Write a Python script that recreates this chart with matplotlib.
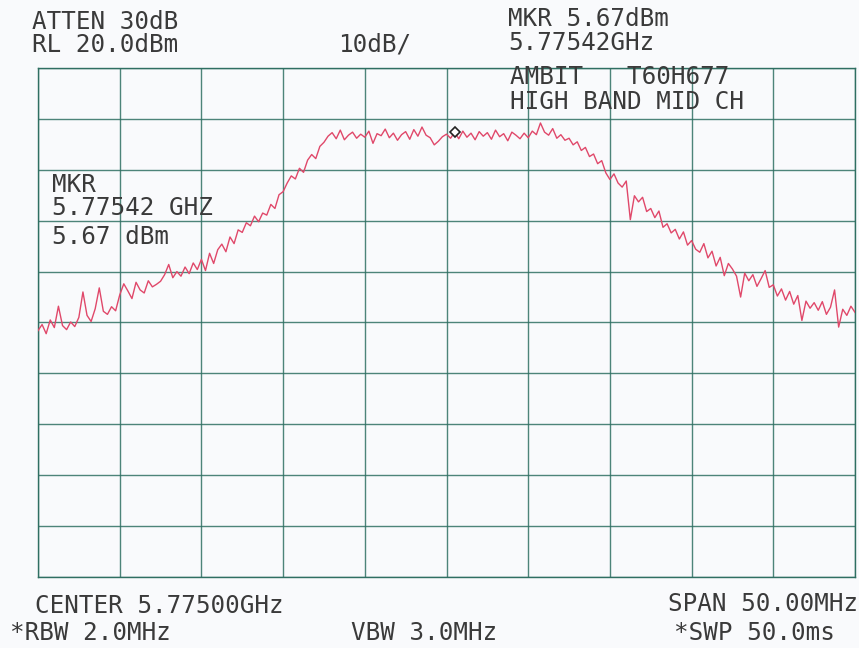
import numpy as np
import matplotlib
matplotlib.use("Agg")
import matplotlib.pyplot as plt

# ---- instrument settings ----
center_ghz = 5.775
span_mhz = 50.0
ref_level_dbm = 20.0
db_per_div = 10.0
n_div = 10

# ---- trace (dBm), 201 sweep points ----
trace_dbm = [
    -31.6, -30.4, -32.2, -29.5, -31.0, -26.8, -30.6, -31.4, -29.9, -30.8,
    -29.0, -24.0, -28.6, -29.8, -27.3, -23.2, -27.8, -28.4, -26.9, -27.7,
    -24.6, -22.4, -23.8, -25.3, -22.1, -23.6, -24.2, -21.8, -23.0, -22.5,
    -21.9, -20.6, -18.6, -21.2, -20.0, -20.9, -19.1, -20.4, -18.3, -19.6,
    -17.6, -19.8, -16.4, -18.4, -15.7, -14.6, -16.1, -13.2, -14.5, -11.8,
    -12.3, -10.4, -11.0, -9.1, -10.2, -8.5, -8.9, -6.8, -7.6, -4.9,
    -4.3, -2.6, -1.2, -1.8, 0.3, -0.5, 1.9, 3.0, 2.2, 4.6,
    5.4, 6.6, 7.3, 6.1, 7.8, 5.9, 6.8, 7.4, 6.2, 7.0,
    6.4, 7.6, 5.2, 7.1, 6.7, 8.0, 6.3, 7.2, 5.8, 6.9,
    7.5, 6.0, 7.9, 6.6, 8.4, 6.8, 6.3, 4.9, 5.6, 6.5,
    7.0, 6.2, 7.4, 6.1, 7.6, 6.4, 7.2, 5.9, 7.5, 6.6,
    7.3, 6.0, 7.8, 6.5, 7.1, 5.7, 7.4, 6.8, 6.1, 7.2,
    6.3, 7.6, 6.9, 9.2, 7.4, 6.8, 8.1, 6.2, 6.9, 5.8,
    6.2, 4.9, 5.5, 3.8, 4.4, 2.6, 3.1, 1.2, 1.8, -0.6,
    -1.9, -0.8, -2.6, -3.4, -2.2, -9.8, -5.1, -6.3, -5.4, -8.2,
    -7.6, -9.4, -8.1, -11.3, -10.6, -12.4, -11.7, -13.6, -12.2, -14.8,
    -13.9, -15.6, -16.2, -14.5, -17.3, -16.0, -18.9, -17.2, -20.8, -18.4,
    -19.5, -20.9, -25.0, -20.3, -21.8, -20.6, -22.9, -21.4, -19.8, -23.1,
    -22.6, -24.8, -23.4, -25.6, -23.9, -26.4, -24.7, -29.6, -25.8, -27.2,
    -26.1, -27.6, -25.9, -28.4, -27.0, -23.6, -30.9, -27.4, -28.6, -26.8,
    -28.0,
]
marker_index = 102

# ---- annotation texts: (string, anchor x px, center y px, alignment) ----
labels = [
    ("ATTEN 30dB", 32, 22, "left"),
    ("RL 20.0dBm", 32, 45, "left"),
    ("10dB/", 338, 45, "left"),
    ("MKR 5.67dBm", 508, 19, "left"),
    ("5.77542GHz", 508, 43, "left"),
    ("AMBIT   T60H677", 510, 77, "left"),
    ("HIGH BAND MID CH", 510, 102, "left"),
    ("MKR", 52, 185, "left"),
    ("5.77542 GHZ", 52, 208, "left"),
    ("5.67 dBm", 52, 237, "left"),
    ("CENTER 5.77500GHz", 35, 606, "left"),
    ("SPAN 50.00MHz", 858, 604, "right"),
    ("*RBW 2.0MHz", 10, 633, "left"),
    ("VBW 3.0MHz", 424, 633, "center"),
    ("*SWP 50.0ms", 835, 633, "right"),
]

W, H = 859, 648
bg = "#f9fafc"
grid_col = "#2f6f62"
trace_col = "#e0486a"
text_col = "#3a3a3a"

fig = plt.figure(figsize=(W / 100, H / 100), dpi=100, facecolor=bg)
x0, x1, y0, y1 = 38, 855, 68, 577
ax = fig.add_axes([x0 / W, 1 - y1 / H, (x1 - x0) / W, (y1 - y0) / H])
ax.set_facecolor(bg)

f_start = center_ghz - span_mhz / 2000.0
f_stop = center_ghz + span_mhz / 2000.0
freqs = np.linspace(f_start, f_stop, len(trace_dbm))
bottom = ref_level_dbm - n_div * db_per_div

ax.set_xlim(f_start, f_stop)
ax.set_ylim(bottom, ref_level_dbm)
ax.set_xticks(np.linspace(f_start, f_stop, n_div + 1))
ax.set_yticks(np.linspace(bottom, ref_level_dbm, n_div + 1))
ax.grid(True, color=grid_col, linewidth=1.0, alpha=0.85)
ax.tick_params(length=0, labelbottom=False, labelleft=False)
for s in ax.spines.values():
    s.set_color(grid_col)
    s.set_linewidth(1.0)

ax.plot(freqs, trace_dbm, color=trace_col, linewidth=1.0, zorder=3)
ax.plot(freqs[marker_index], trace_dbm[marker_index], marker="D", markersize=5,
        markerfacecolor="white", markeredgecolor="#222222", markeredgewidth=1.2,
        zorder=4, clip_on=False)

for txt, px, py, ha in labels:
    fig.text(px / W, 1 - py / H, txt, ha=ha, va="center",
             fontsize=17.5, family="DejaVu Sans Mono", color=text_col)

fig.savefig("out.png", dpi=100, facecolor=bg)
